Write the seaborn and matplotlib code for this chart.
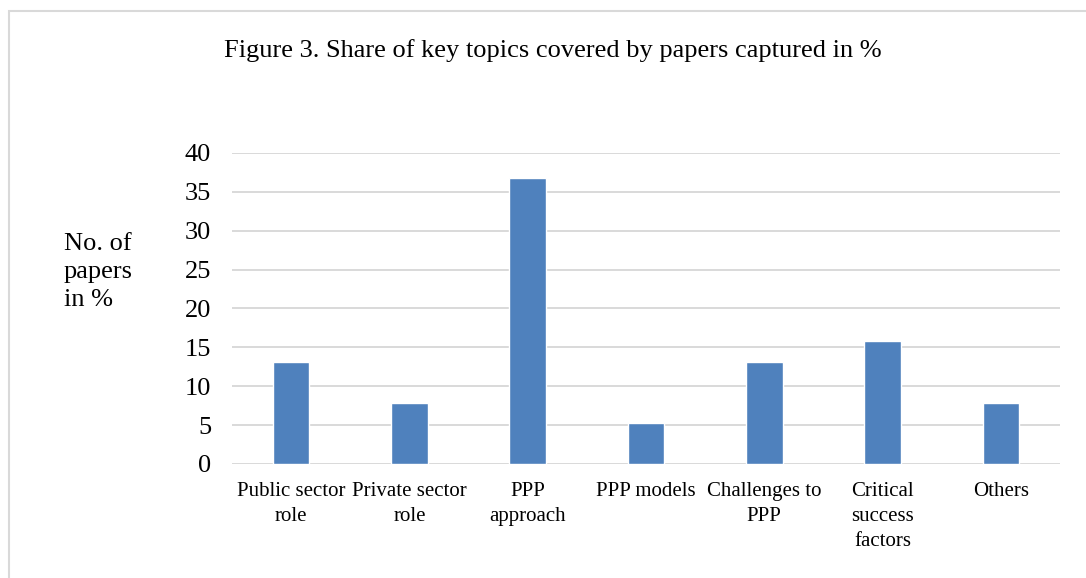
import matplotlib
matplotlib.use("Agg")
import matplotlib.pyplot as plt
import seaborn as sns
import pandas as pd
from matplotlib.patches import Rectangle

categories = ["Public sector\nrole", "Private sector\nrole", "PPP\napproach", "PPP models",
              "Challenges to\nPPP", "Critical\nsuccess\nfactors", "Others"]
values = [13.16, 7.89, 36.84, 5.26, 13.16, 15.79, 7.89]
yticks = [0, 5, 10, 15, 20, 25, 30, 35, 40]

sns.set_theme(style="white")
plt.rcParams['font.family'] = ['Liberation Serif', 'DejaVu Serif']
plt.rcParams['text.color'] = 'black'
plt.rcParams['xtick.color'] = 'black'
plt.rcParams['ytick.color'] = 'black'

df = pd.DataFrame({"topic": categories, "value": values})

fig = plt.figure(figsize=(10.86, 5.78), dpi=100)
ax = fig.add_axes([232/1086, 1-464/578, (1060-232)/1086, (464-153)/578])
sns.barplot(data=df, x="topic", y="value", color="#4f81bd", saturation=1, width=0.31, ax=ax)

ax.set_ylim(0, 40)
ax.set_xlim(-0.5, len(categories)-0.5)
ax.set_yticks(yticks)
ax.set_yticklabels([str(t) for t in yticks], fontsize=19)
ax.tick_params(axis='y', length=0, pad=15)
ax.tick_params(axis='x', length=0, pad=13, labelsize=15)
ax.set_xlabel("")
ax.set_ylabel("")
ax.grid(axis='y', color='#d9d9d9', linewidth=1.4)
ax.set_axisbelow(True)
for s in ax.spines.values():
    s.set_visible(False)
for lab in ax.get_xticklabels():
    lab.set_linespacing(1.42)

fig.text(553/1086, 1-51/578, "Figure 3. Share of key topics covered by papers captured in %",
         ha='center', va='center', fontsize=19)
fig.text(64/1086, 1-272/578, "No. of\npapers\nin %", ha='left', va='center', fontsize=19,
         linespacing=1.38)

fig.patches.append(Rectangle((9/1086, -0.1), 1.2, 1-11/578+0.1, transform=fig.transFigure,
                             fill=False, edgecolor='#d9d9d9', linewidth=1.5))

fig.savefig("out.png", dpi=100)
